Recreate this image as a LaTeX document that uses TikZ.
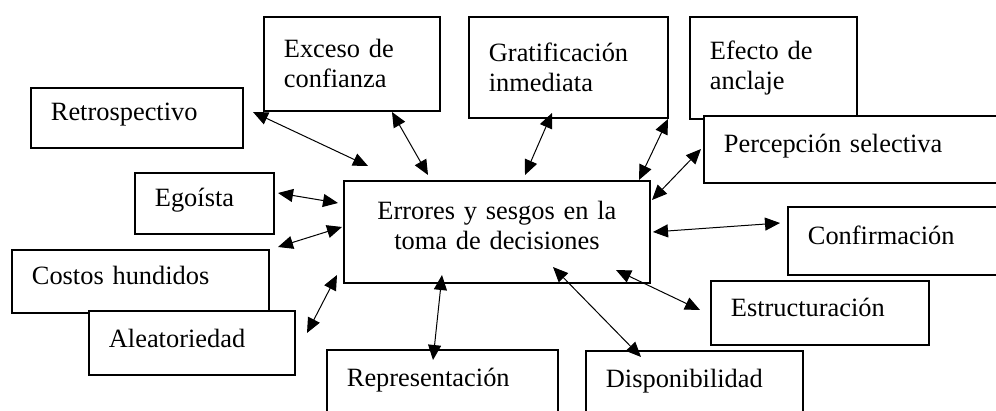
\documentclass[tikz,border=0pt]{standalone}
\usepackage{fontspec}
\setmainfont{Liberation Serif}
\usetikzlibrary{arrows.meta}

\tikzset{
  caja/.style={draw, fill=white, line width=0.9pt, anchor=north west, align=left,
    inner xsep=10pt, inner ysep=2pt, font=\fontsize{13.2}{15}\selectfont},
  linea/.style={text depth=6pt},
  flecha/.style={{Triangle[length=7.5pt,width=6.5pt]}-{Triangle[length=7.5pt,width=6.5pt]}, line width=0.5pt}
}

\begin{document}
\begin{tikzpicture}[x=0.5pt, y=-0.5pt]
		\useasboundingbox (0,0) rectangle (996,411);
		\clip (0,0) rectangle (996,411);
		% Define nodes
		\node[caja, linea, text width=86pt, minimum height=30pt]     (retro)   at (30,87)   {Retrospectivo};
		\node[caja, text width=68pt, minimum height=47pt]            (exceso)  at (263,16)  {Exceso de\\confianza};
		\node[caja, text width=79.5pt, minimum height=50.5pt]        (grat)    at (468,16)  {Gratificación\\inmediata};
		\node[caja, text width=63.5pt, minimum height=51pt]          (efecto)  at (689,16)  {Efecto de\\anclaje};
		\node[caja, linea, text width=135pt, minimum height=33.5pt]  (percep)  at (703,115) {Percepción selectiva};
		\node[caja, linea, text width=49.5pt, minimum height=30.5pt] (egoista) at (134,172) {Egoísta};
		\node[caja, text width=133pt, minimum height=51pt, align=center, text depth=22pt] (err) at (343,180) {Errores y sesgos en la\\toma de decisiones};
		\node[caja, linea, text width=140pt, minimum height=34pt]    (confir)  at (787,206) {Confirmación};
		\node[caja, linea, text width=89pt, minimum height=32pt]     (estruc)  at (710,280) {Estructuración};
		\node[caja, linea, text width=108.5pt, minimum height=31.5pt] (costos) at (11,249)  {Costos hundidos};
		\node[caja, text width=83pt, minimum height=32pt, text depth=4.5pt] (aleat) at (88,310) {Aleatoriedad};
		\node[caja, linea, text width=95.5pt, minimum height=33pt]   (repres)  at (326,349) {Representación};
		\node[caja, linea, text width=88.5pt, minimum height=33pt]   (dispon)  at (585,350) {Disponibilidad};
		% Arrow ends
		\coordinate (retro-a)   at (253,112);  \coordinate (err-retro)   at (368,166);
		\coordinate (exceso-a)  at (392,112);  \coordinate (err-exceso)  at (428,175);
		\coordinate (grat-a)    at (552,113);  \coordinate (err-grat)    at (525,175);
		\coordinate (efecto-a)  at (668,119);  \coordinate (err-efecto)  at (639,180);
		\coordinate (percep-a)  at (701,149);  \coordinate (err-percep)  at (652,200);
		\coordinate (confir-a)  at (780,223);  \coordinate (err-confir)  at (653,232);
		\coordinate (estruc-a)  at (700,310);  \coordinate (err-estruc)  at (616,270);
		\coordinate (dispon-a)  at (641,357);  \coordinate (err-dispon)  at (553,267);
		\coordinate (repres-a)  at (433,360);  \coordinate (err-repres)  at (442,275);
		\coordinate (aleat-a)   at (307,333);  \coordinate (err-aleat)   at (337,275);
		\coordinate (costos-a)  at (278,247);  \coordinate (err-costos)  at (342,227);
		\coordinate (egoista-a) at (278,193);  \coordinate (err-egoista) at (338,203);
		\draw[flecha] (retro-a) -- (err-retro);
		\draw[flecha] (exceso-a) -- (err-exceso);
		\draw[flecha] (grat-a) -- (err-grat);
		\draw[flecha] (efecto-a) -- (err-efecto);
		\draw[flecha] (percep-a) -- (err-percep);
		\draw[flecha] (confir-a) -- (err-confir);
		\draw[flecha] (estruc-a) -- (err-estruc);
		\draw[flecha] (dispon-a) -- (err-dispon);
		\draw[flecha] (repres-a) -- (err-repres);
		\draw[flecha] (aleat-a) -- (err-aleat);
		\draw[flecha] (costos-a) -- (err-costos);
		\draw[flecha] (egoista-a) -- (err-egoista);
	\end{tikzpicture}
\end{document}
